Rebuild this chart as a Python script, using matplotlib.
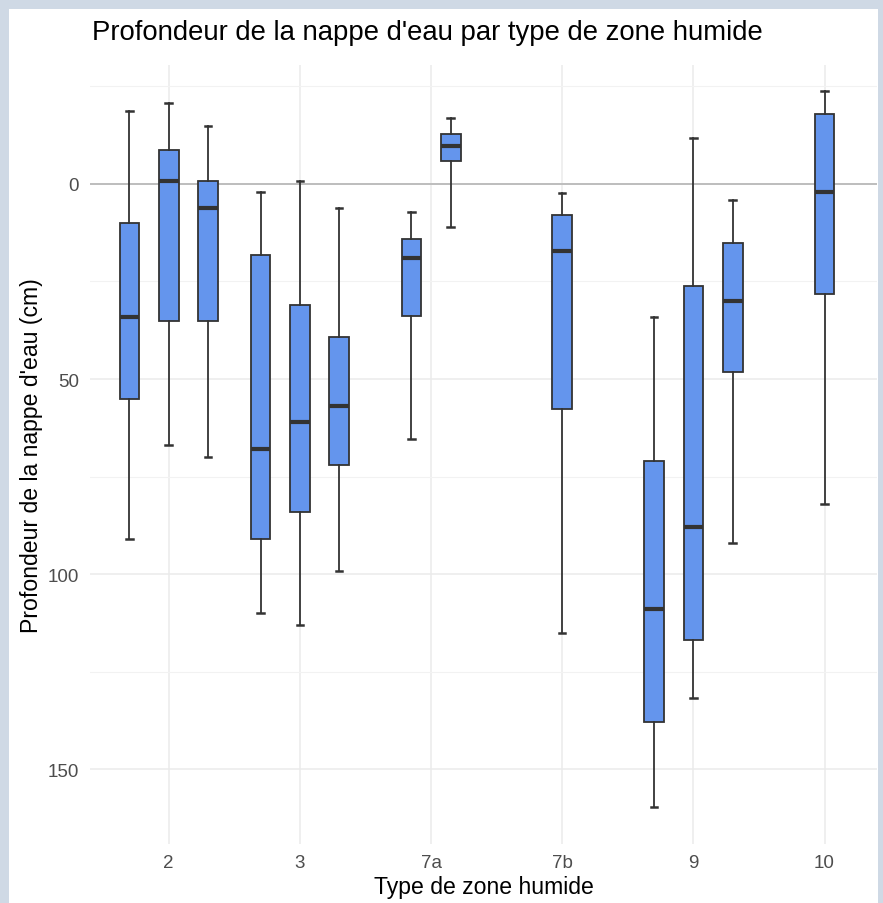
import matplotlib
matplotlib.use("Agg")
import matplotlib.pyplot as plt
from matplotlib.patches import Rectangle

plt.rcParams['font.family'] = ['Liberation Sans', 'DejaVu Sans']

# zone types on the x axis
categories = ['2', '3', '7a', '7b', '9', '10']

# one entry per box: zone type and the five boxplot statistics (cm)
box_zone = ['2', '2', '2', '3', '3', '3', '7a', '7a', '7b', '9', '9', '9', '10']
whis_lo = [-18.8, -20.8, -14.8, 2.1, -0.8, 6.2, 7.1, -16.8, 2.4, 34.2, -11.8, 4.1, -23.8]
q1 = [10.1, -8.8, -0.8, 18.1, 31.0, 39.2, 14.2, -12.9, 7.9, 71.1, 26.2, 15.1, -17.9]
median = [34.2, -0.8, 6.2, 68.0, 61.0, 57.0, 19.1, -9.7, 17.3, 109.0, 88.0, 30.0, 2.1]
q3 = [55.0, 35.1, 35.1, 91.1, 84.0, 72.1, 33.9, -5.8, 57.7, 138.0, 117.0, 48.1, 28.1]
whis_hi = [91.0, 66.9, 70.1, 110.1, 113.0, 99.1, 65.5, 11.1, 115.0, 159.8, 131.9, 92.1, 82.0]

fill = '#6495ED'
edge = '#333333'

fig = plt.figure(figsize=(8.83, 9.04), dpi=100)
fig.patch.set_facecolor('#cfd9e5')
fig.patches.append(Rectangle((9 / 883, 0), 869 / 883, 1 - 10 / 904,
                             transform=fig.transFigure, facecolor='white',
                             edgecolor='none', zorder=-1))

ax = fig.add_axes([90 / 883, 1 - 845 / 904, 787 / 883, 779 / 904])
ax.set_zorder(1)
ax.set_facecolor('white')

# dodge boxes inside each zone type
stats, positions = [], []
for i, zone in enumerate(box_zone):
    members = [j for j, z in enumerate(box_zone) if z == zone]
    k = members.index(i)
    n = len(members)
    positions.append(categories.index(zone) + 1 + (k - (n - 1) / 2) * 0.3)
    stats.append(dict(med=median[i], q1=q1[i], q3=q3[i],
                      whislo=whis_lo[i], whishi=whis_hi[i], fliers=[]))

ax.axhline(0, color='#bdbdbd', lw=1.4, zorder=1)
ax.bxp(stats, positions=positions, widths=0.15, capwidths=0.05,
       patch_artist=True, showfliers=False, manage_ticks=False,
       boxprops=dict(facecolor=fill, edgecolor=edge, linewidth=1.3),
       medianprops=dict(color=edge, linewidth=3.0, solid_capstyle='butt'),
       whiskerprops=dict(color=edge, linewidth=1.3),
       capprops=dict(color=edge, linewidth=1.8), zorder=3)

ax.set_xlim(0.4, 6.4)
ax.set_ylim(169.2, -30.5)
ax.set_xticks(range(1, len(categories) + 1))
ax.set_xticklabels(categories)
ax.set_yticks([0, 50, 100, 150])
ax.set_yticks([-25, 25, 75, 125], minor=True)

ax.grid(True, which='major', color='#ebebeb', lw=1.1, zorder=0)
ax.grid(True, which='minor', axis='y', color='#f2f2f2', lw=0.8, zorder=0)
ax.set_axisbelow(True)
for s in ax.spines.values():
    s.set_visible(False)
ax.tick_params(axis='both', which='both', length=0, labelsize=13.5, labelcolor='#4d4d4d')
ax.tick_params(axis='y', pad=8)
ax.tick_params(axis='x', pad=7)

ax.set_xlabel('Type de zone humide', fontsize=16.6, color='black')
ax.set_ylabel("Profondeur de la nappe d'eau (cm)", fontsize=16.6, color='black')
ax.xaxis.set_label_coords(0.5, -0.040)
ax.yaxis.set_label_coords(-0.060, 0.5)

fig.text(92 / 883, 1 - 33 / 904, "Profondeur de la nappe d'eau par type de zone humide",
         fontsize=19.8, ha='left', va='center', color='black')

fig.savefig('out.png', dpi=100, facecolor=fig.get_facecolor())
